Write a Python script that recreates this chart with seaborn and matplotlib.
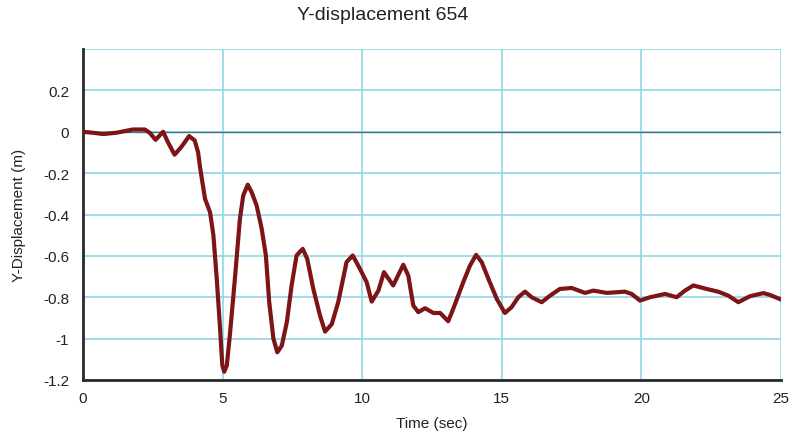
import numpy as np
import pandas as pd
import matplotlib
matplotlib.use("Agg")
import matplotlib.pyplot as plt
import seaborn as sns

time_sec = [0.0, 0.36, 0.72, 1.19, 1.79, 2.21, 2.39, 2.60, 2.87, 3.04, 3.28, 3.52,
            3.80, 4.00, 4.12, 4.20, 4.37, 4.55, 4.67, 4.79, 4.91, 4.99, 5.06, 5.15,
            5.27, 5.44, 5.62, 5.74, 5.90, 6.04, 6.22, 6.40, 6.55, 6.67, 6.82, 6.96,
            7.12, 7.30, 7.47, 7.65, 7.87, 8.03, 8.25, 8.49, 8.67, 8.91, 9.14,
            9.44, 9.66, 9.92, 10.16, 10.34, 10.58, 10.78, 11.11, 11.47, 11.65, 11.83,
            12.01, 12.25, 12.55, 12.79, 13.08, 13.26, 13.62, 13.86, 14.08, 14.28,
            14.52, 14.82, 15.11, 15.35, 15.59, 15.83, 16.07, 16.43, 16.73, 17.08,
            17.50, 17.98, 18.28, 18.76, 19.41, 19.65, 19.95, 20.31, 20.85, 21.26,
            21.56, 21.86, 22.34, 22.75, 23.11, 23.47, 23.89, 24.37, 24.61, 25.0]
y_disp = [0.0, -0.005, -0.011, -0.005, 0.011, 0.011, -0.005, -0.039, 0.0, -0.05,
          -0.111, -0.074, -0.021, -0.042, -0.098, -0.179, -0.324, -0.389, -0.50,
          -0.71, -0.953, -1.13, -1.16, -1.13, -0.969, -0.711, -0.421, -0.308,
          -0.256, -0.292, -0.357, -0.469, -0.598, -0.824, -1.00, -1.066, -1.034,
          -0.921, -0.744, -0.598, -0.566, -0.614, -0.76, -0.889, -0.966, -0.93,
          -0.824, -0.63, -0.598, -0.663, -0.727,
          -0.821, -0.768, -0.679, -0.743, -0.643, -0.695, -0.84, -0.872, -0.853,
          -0.876, -0.876, -0.916, -0.856, -0.727, -0.647, -0.595, -0.63, -0.711,
          -0.808, -0.876, -0.848, -0.80, -0.773, -0.80, -0.824, -0.792, -0.76,
          -0.755, -0.779, -0.768, -0.779, -0.773, -0.784, -0.816, -0.80, -0.784,
          -0.80, -0.768, -0.743, -0.76, -0.773, -0.792, -0.824, -0.795, -0.780,
          -0.789, -0.811]

x_ticks = [0, 5, 10, 15, 20, 25]
y_ticks = [-1.2, -1.0, -0.8, -0.6, -0.4, -0.2, 0.0, 0.2, 0.4]
y_tick_labels = ["-1.2", "-1", "-0.8", "-0.6", "-0.4", "-0.2", "0", "0.2", ""]

sns.set_theme(style="white")
plt.rcParams["font.family"] = ["Liberation Sans", "DejaVu Sans"]

df = pd.DataFrame({"t": time_sec, "y": y_disp})

fig = plt.figure(figsize=(7.92, 4.39), dpi=100)
ax = fig.add_axes([83 / 792, 1 - 381 / 439, (781 - 83) / 792, (381 - 50) / 439])

ax.set_xlim(0, 25)
ax.set_ylim(-1.2, 0.4)
ax.set_xticks(x_ticks)
ax.set_yticks(y_ticks)
ax.set_yticklabels(y_tick_labels)
ax.grid(True, color="#8fd8e6", linewidth=1.2, zorder=0)
ax.axhline(0, color="#3f7680", linewidth=1.0, zorder=1)

sns.lineplot(data=df, x="t", y="y", ax=ax, color="#7d1416", linewidth=3.0, zorder=3,
             solid_joinstyle="round", solid_capstyle="round")

for s in ["top", "right"]:
    ax.spines[s].set_visible(False)
for s in ["left", "bottom"]:
    ax.spines[s].set_color("#2a2a2a")
    ax.spines[s].set_linewidth(2.0)
ax.tick_params(axis="both", direction="inout", length=12, width=2, color="#2a2a2a",
               labelsize=11, labelcolor="#222222", pad=4)
ax.tick_params(axis="x", pad=2)

ax.set_xlabel("Time (sec)", fontsize=11, color="#222222", labelpad=8)
ax.set_ylabel("Y-Displacement (m)", fontsize=11, color="#222222", labelpad=12)
fig.text(383 / 792, 1 - 16 / 439, "Y-displacement 654", ha="center", va="center",
         fontsize=14, color="#222222")

fig.savefig("out.png", dpi=100)
